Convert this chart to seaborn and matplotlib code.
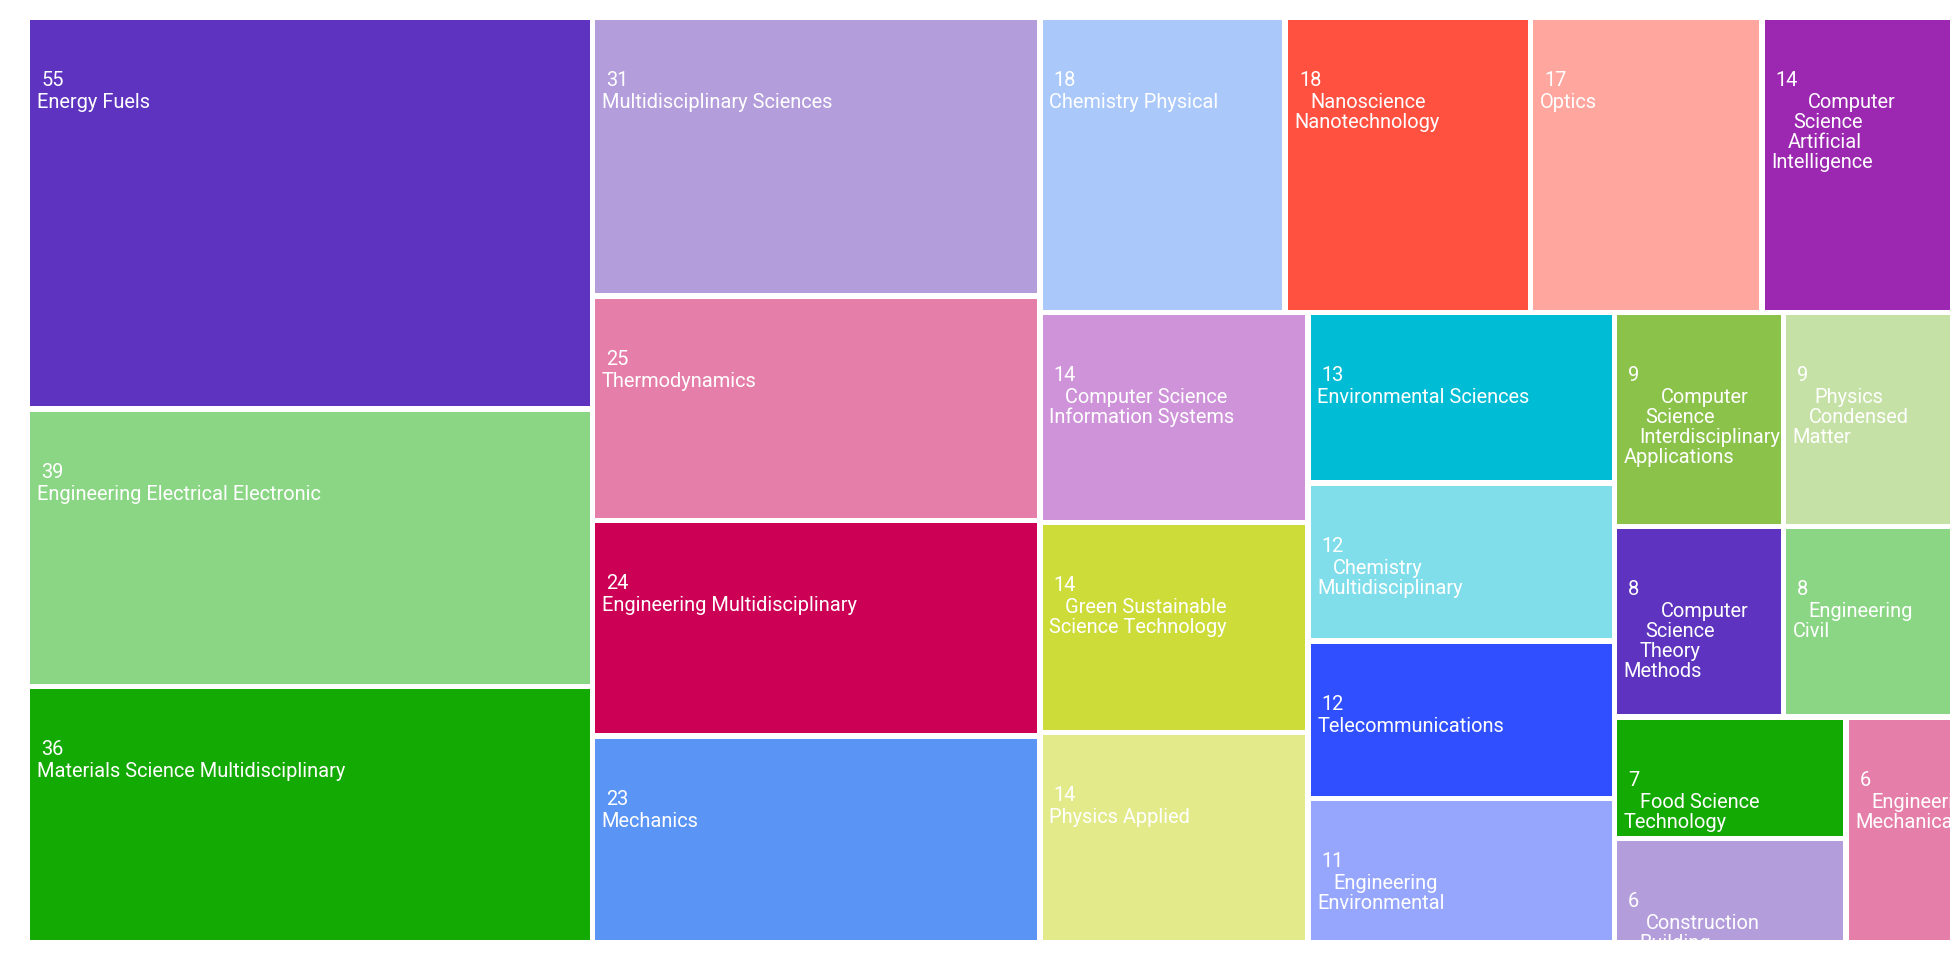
import math
import matplotlib
matplotlib.use("Agg")
import matplotlib.pyplot as plt
from matplotlib.patches import Rectangle
import seaborn as sns

# ---------------- data ----------------
categories = [
    "Energy Fuels",
    "Engineering Electrical Electronic",
    "Materials Science Multidisciplinary",
    "Multidisciplinary Sciences",
    "Thermodynamics",
    "Engineering Multidisciplinary",
    "Mechanics",
    "Chemistry Physical",
    "Nanoscience\nNanotechnology",
    "Optics",
    "Computer\nScience\nArtificial\nIntelligence",
    "Computer Science\nInformation Systems",
    "Green Sustainable\nScience Technology",
    "Physics Applied",
    "Environmental Sciences",
    "Chemistry\nMultidisciplinary",
    "Telecommunications",
    "Engineering\nEnvironmental",
    "Computer\nScience\nInterdisciplinary\nApplications",
    "Physics\nCondensed\nMatter",
    "Computer\nScience\nTheory\nMethods",
    "Engineering\nCivil",
    "Food Science\nTechnology",
    "Construction\nBuilding\nTechnology",
    "Engineering\nMechanical",
]
values = [55, 39, 36, 31, 25, 24, 23, 18, 18, 17, 14, 14, 14, 14,
          13, 12, 12, 11, 9, 9, 8, 8, 7, 6, 6]

palette_hex = [
    "#5d33bf", "#8bd685", "#14aa04", "#b39ddb", "#e57fa9",
    "#cc0055", "#5a94f5", "#aac8f9", "#ff5040", "#ffa69e",
    "#9c27b0", "#ce93d8", "#cddc39", "#e3ea8a", "#00bcd4",
    "#80deea", "#304ffe", "#97a6fd", "#8bc34a", "#c5e1a5",
]

# ---------------- style ----------------
sns.set_theme(style="white")
plt.rcParams["font.family"] = ["Roboto", "DejaVu Sans"]
palette = sns.color_palette(palette_hex)

W, H = 1960, 960
FS = 14.4          # ~20 px at dpi 100
HALF_GAP = 2.75
GOLDEN = 0.5 * (1 + math.sqrt(5))


def worst(row_areas, fixed_len, ratio):
    amax = max(row_areas)
    amin = min(row_areas)
    s = sum(row_areas)
    sq = s * s
    f = fixed_len * fixed_len * ratio
    if sq == 0:
        return math.inf
    return max(f * amax / sq, sq / (f * amin))


def position(row, areas, fixed_len, rect, hg, flush, out):
    idx0 = 0 if fixed_len == rect["width"] else 1
    idx1 = 1 - idx0
    xy = ["x", "y"]
    wh = ["width", "height"]
    last = rect[xy[idx0]]
    row_area = sum(areas[i] for i in row)
    other = row_area / fixed_len if fixed_len else 0
    if flush or other > rect[wh[idx1]]:
        other = rect[wh[idx1]]
    for j, i in enumerate(row):
        lay = {}
        step = areas[i] / other if other else 0
        wh1 = lay[wh[idx1]] = max(other - 2 * hg, 0)
        remain = rect[xy[idx0]] + rect[wh[idx0]] - last
        mod = remain if (j == len(row) - 1 or remain < step) else step
        wh0 = lay[wh[idx0]] = max(mod - 2 * hg, 0)
        lay[xy[idx1]] = rect[xy[idx1]] + min(hg, wh1 / 2)
        lay[xy[idx0]] = last + min(hg, wh0 / 2)
        last += mod
        out[i] = lay
    rect[xy[idx1]] += other
    rect[wh[idx1]] -= other


def squarify(vals, x, y, w, h, hg):
    total = float(sum(vals))
    areas = [v / total * w * h for v in vals]
    rect = {"x": x, "y": y, "width": w, "height": h}
    fixed = min(w, h)
    out = [None] * len(vals)
    row, best, i = [], math.inf, 0
    while i < len(vals):
        row.append(i)
        score = worst([areas[k] for k in row], fixed, GOLDEN)
        if score <= best:
            i += 1
            best = score
        else:
            row.pop()
            position(row, areas, fixed, rect, hg, False, out)
            fixed = min(rect["width"], rect["height"])
            row, best = [], math.inf
    if row:
        position(row, areas, fixed, rect, hg, True, out)
    return out


layout = squarify(values, 30 - HALF_GAP, 20 - HALF_GAP,
                  1920 + 2 * HALF_GAP, 920 + 2 * HALF_GAP, HALF_GAP)

fig = plt.figure(figsize=(W / 100, H / 100), dpi=100)
ax = fig.add_axes([0, 0, 1, 1])
ax.set_xlim(0, W)
ax.set_ylim(H, 0)
ax.axis("off")

INDENT = [0, 16, 22, 37]

for idx, (name, val, lay) in enumerate(zip(categories, values, layout)):
    color = palette[idx % len(palette)]
    r = Rectangle((lay["x"], lay["y"]), lay["width"], lay["height"],
                  facecolor=color, edgecolor="none", linewidth=0)
    ax.add_patch(r)
    left, top = lay["x"], lay["y"]
    t = ax.text(left + 11, top + 66, str(val), color="white", fontsize=FS,
                ha="left", va="baseline")
    t.set_clip_path(r)
    lines = name.split("\n")
    n = len(lines)
    for li, line in enumerate(lines):
        k = n - 1 - li
        ind = INDENT[min(k, len(INDENT) - 1)]
        tt = ax.text(left + 6.5 + ind, top + 88 + 20 * li, line,
                     color="white", fontsize=FS, ha="left", va="baseline")
        tt.set_clip_path(r)

fig.savefig("out.png", dpi=100, facecolor="white")
